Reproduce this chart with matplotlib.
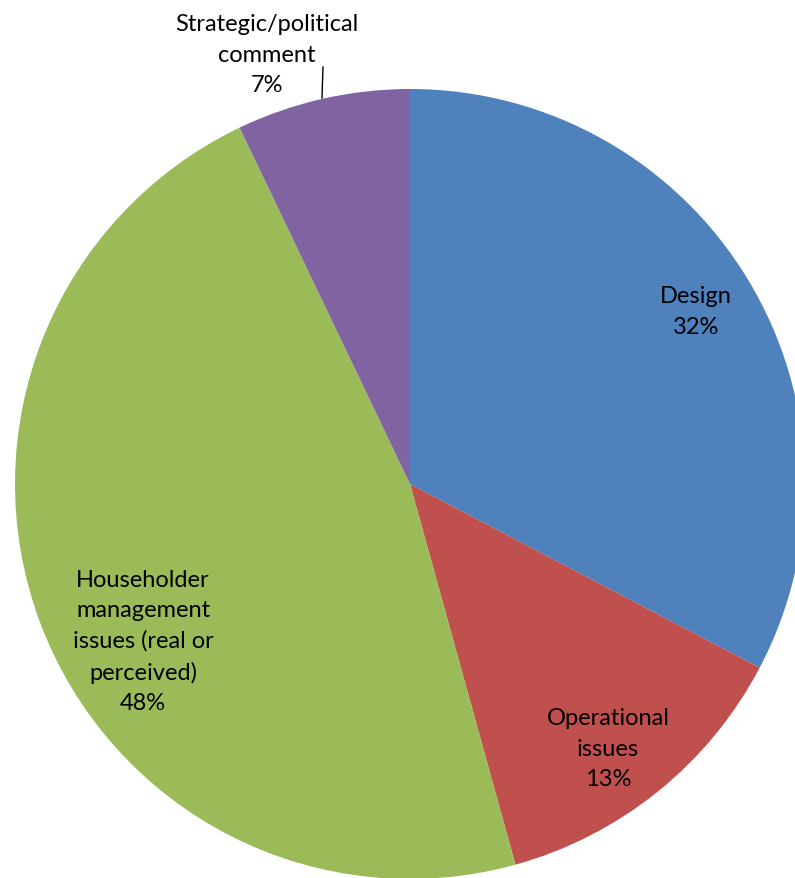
import matplotlib.pyplot as plt

categories = ['Design', 'Operational\nissues', 'Householder\nmanagement\nissues (real or\nperceived)',
              'Strategic/political\ncomment']
values = [32.7, 13.0, 47.2, 7.1]
pct_labels = ['32%', '13%', '48%', '7%']
colors = ['#4F81BD', '#C0504D', '#9BBB59', '#8064A2']

plt.rcParams['font.family'] = ['Lato', 'DejaVu Sans']

W, H = 795, 879
cx, cy, R = 410, 485, 395

fig = plt.figure(figsize=(W / 100, H / 100), dpi=100)
ax = fig.add_axes([0, 0, 1, 1])
ax.pie(values, colors=colors, startangle=90, counterclock=False, radius=1,
       wedgeprops=dict(linewidth=0))
ax.set_aspect('auto')
ax.set_xlim(-cx / R, (W - cx) / R)
ax.set_ylim(-(H - cy) / R, cy / R)
ax.axis('off')


def px(x, y):
    return (x - cx) / R, (cy - y) / R


# label positions in pixels (centre of text block)
label_pos = [(696, 312), (608, 749), (143, 642), (267, 55)]
for name, pct, (x, y) in zip(categories, pct_labels, label_pos):
    ax.text(*px(x, y), name + '\n' + pct, ha='center', va='center',
            fontsize=17, linespacing=1.55, color='black')

# leader line for the small slice
x0, y0 = px(322, 99)
x1, y1 = px(323, 68)
ax.plot([x0, x1], [y0, y1], color='black', linewidth=1)

fig.savefig('out.png', dpi=100)
